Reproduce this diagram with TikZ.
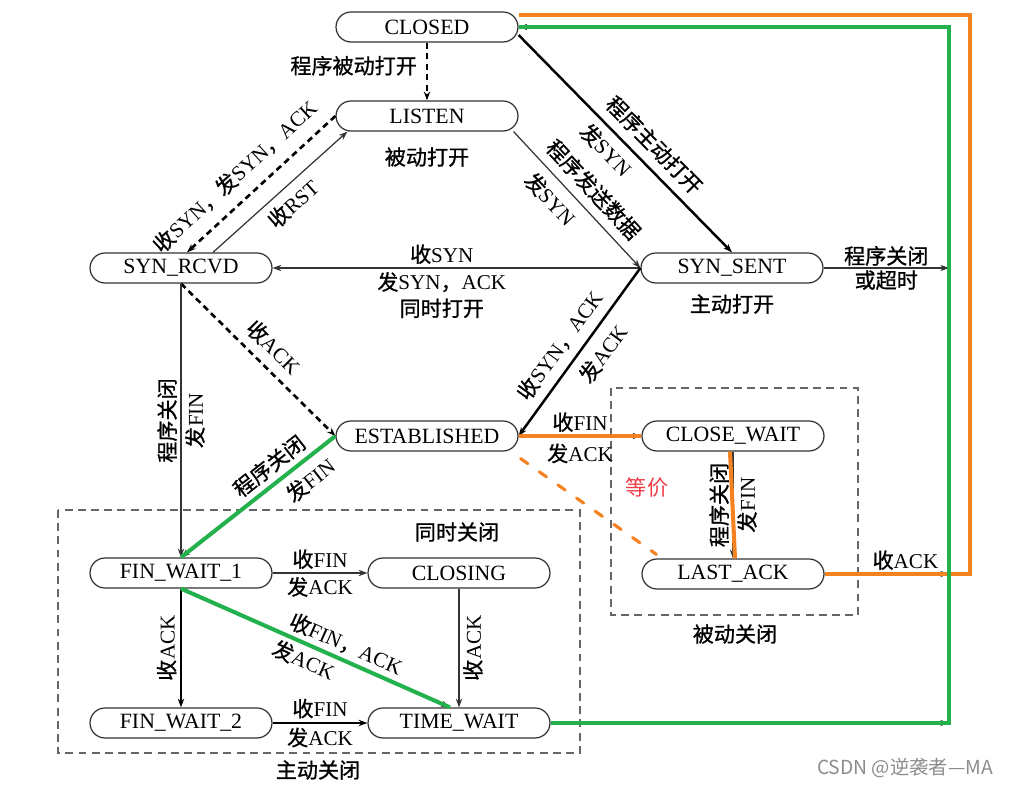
\documentclass[tikz,border=0pt]{standalone}
\usepackage{fontspec}
\setmainfont{Liberation Serif}
\newfontfamily\zhfont[FakeBold=1]{Noto Sans CJK SC}
\newfontfamily\zhsans{Noto Sans CJK SC}
\newcommand{\cn}[1]{{\zhfont #1}}
\usetikzlibrary{arrows.meta}

\definecolor{markorange}{RGB}{245,130,32}
\definecolor{markgreen}{RGB}{34,177,76}
\definecolor{markred}{RGB}{240,60,70}

\tikzset{
    state/.style={draw=black!80, line width=0.7pt, rounded corners=0.3cm,
        minimum width=3.64cm, minimum height=0.6cm, inner sep=0pt,
        font=\fontsize{12.4}{14}\selectfont},
    lab/.style={font=\fontsize{12}{14}\selectfont, inner sep=2pt, align=center},
    thinarr/.style={->, draw=black!80, line width=0.7pt},
    boldarr/.style={->, draw=black, line width=1.4pt},
    dasharr/.style={->, draw=black, line width=1.5pt, dash pattern=on 3.5pt off 2.5pt},
    groupbox/.style={draw=black!60, line width=0.8pt, dash pattern=on 4.5pt off 3pt},
    orangemark/.style={draw=markorange, line width=2.3pt},
    greenmark/.style={draw=markgreen, line width=2.3pt}
}

\begin{document}
\begin{tikzpicture}[
        x=0.02cm, y=-0.02cm,
        >={Stealth[length=5pt, width=3.6pt]}
    ]

        \useasboundingbox (0,0) rectangle (1009,787);

        % states
        \node[state] (closed) at (427,27) {CLOSED};
        \node[state] (listen) at (427,116) {LISTEN};
        \node[state] (synrcvd) at (181,268) {SYN\_RCVD};
        \node[state] (synsent) at (732,268) {SYN\_SENT};
        \node[state] (established) at (427,436) {ESTABLISHED};
        \node[state] (closewait) at (733,436) {CLOSE\_WAIT};
        \node[state] (lastack) at (733,574) {LAST\_ACK};
        \node[state] (finwait1) at (181,573) {FIN\_WAIT\_1};
        \node[state] (closing) at (459,573) {CLOSING};
        \node[state] (finwait2) at (181,723) {FIN\_WAIT\_2};
        \node[state] (timewait) at (459,723) {TIME\_WAIT};

        \coordinate (busTop) at (949,27);
        \coordinate (orangeTop) at (970,15);

        % groups
        \draw[groupbox] (58,510) rectangle (580,753);
        \draw[groupbox] (611,388) rectangle (858,615);

        \node[lab] (listenNote) at (427,157) {\cn{被动打开}};
        \node[lab] (sentNote) at (732,304) {\cn{主动打开}};
        \node[lab] (simulClose) at (457,532) {\cn{同时关闭}};
        \node[lab] (activeClose) at (318,770) {\cn{主动关闭}};
        \node[lab] (passiveClose) at (735,634) {\cn{被动关闭}};

        % opening
        \draw[dasharr] (closed) -- (listen)
            node[lab, pos=0.4, left=3pt] {\cn{程序被动打开}};

        \draw[boldarr] (closed.-5) -- (synsent.north)
            node[lab, pos=0.57, sloped, above=3pt] {\cn{程序主动打开}}
            node[lab, pos=0.47, sloped, below=2pt] {\cn{发}SYN};

        \draw[thinarr] ([xshift=-0.1cm]listen.south east) -- (synsent.west)
            node[lab, pos=0.52, sloped, above=3pt] {\cn{程序发送数据}}
            node[lab, pos=0.40, sloped, below=3pt] {\cn{发}SYN};

        \draw[dasharr] (listen.west) -- ([xshift=0.12cm]synrcvd.north)
            node[lab, pos=0.57, sloped, above=5pt] {\cn{收}SYN\cn{，发}SYN\cn{，}ACK};

        \draw[thinarr] ([xshift=0.64cm]synrcvd.north) -- ([xshift=0.24cm]listen.south west)
            node[lab, pos=0.51, sloped, below=2pt] {\cn{收}RST};

        \draw[thinarr] (synsent.west) -- (synrcvd.east)
            node[lab, pos=0.54, above=0pt] {\cn{收}SYN}
            node[lab, pos=0.54, below=0pt] {\cn{发}SYN\cn{，}ACK\\[1pt]\cn{同时打开}};

        \draw[dasharr] (synrcvd.south) -- (established.west)
            node[lab, pos=0.51, sloped, above=3pt] {\cn{收}ACK};

        \draw[boldarr] (synsent.west) -- (established.east)
            node[lab, pos=0.53, sloped, above=3pt] {\cn{收}SYN\cn{，}ACK}
            node[lab, pos=0.44, sloped, below=3pt] {\cn{发}ACK};

        % closing
        \draw[thinarr] (synrcvd.south) -- (finwait1.north)
            node[lab, midway, rotate=90, above] {\cn{程序关闭}}
            node[lab, midway, rotate=90, below] {\cn{发}FIN};

        \draw[thinarr] (established.east) -- (closewait.west)
            node[lab, midway, above] {\cn{收}FIN}
            node[lab, midway, below=2pt] {\cn{发}ACK};

        \draw[thinarr] (established.west) -- (finwait1.north)
            node[lab, pos=0.36, sloped, above=2pt] {\cn{程序关闭}}
            node[lab, pos=0.24, sloped, below=3pt] {\cn{发}FIN};

        \draw[thinarr] (closewait.south) -- (lastack.north)
            node[lab, midway, rotate=90, above] {\cn{程序关闭}}
            node[lab, midway, rotate=90, below] {\cn{发}FIN};

        \draw[thinarr] (finwait1.east) -- (closing.west)
            node[lab, midway, above] {\cn{收}FIN}
            node[lab, midway, below] {\cn{发}ACK};

        \draw[boldarr] (finwait1.south) -- (finwait2.north)
            node[lab, midway, rotate=90, above] {\cn{收}ACK};

        \draw[thinarr] (finwait1.south) -- ([xshift=-0.18cm]timewait.north)
            node[lab, pos=0.59, sloped, above=1pt] {\cn{收}FIN\cn{，}ACK}
            node[lab, pos=0.48, sloped, below=1pt] {\cn{发}ACK};

        \draw[thinarr] (closing.south) -- (timewait.north)
            node[lab, midway, rotate=90, below] {\cn{收}ACK};

        \draw[boldarr] (finwait2.east) -- (timewait.west)
            node[lab, midway, above] {\cn{收}FIN}
            node[lab, midway, below] {\cn{发}ACK};

        % back to CLOSED
        \draw[thinarr] (synsent.east) -- (synsent.east -| busTop)
            node[lab, midway, above=-1pt] {\cn{程序关闭}}
            node[lab, midway, below=-1pt] {\cn{或超时}};
        \draw[thinarr] (lastack.east) -- (lastack.east -| busTop)
            node[lab, pos=0.65, above] {\cn{收}ACK};
        \draw[thinarr] (timewait.east) -- (timewait.east -| busTop);
        \draw[thinarr] (timewait.east -| busTop) -- (busTop) -- (closed.east);

        % marks
        \draw[orangemark] (established.east) -- (closewait.west);
        \draw[orangemark] ([xshift=-0.06cm]closewait.south) -- ([xshift=0.04cm]lastack.north);
        \draw[orangemark, line width=1.8pt, line cap=round, dash pattern=on 5pt off 8pt]
            ([shift={(0.04cm,-0.14cm)}]established.south east) -- ([shift={(0.3cm,0.08cm)}]lastack.north west);
        \draw[orangemark] (lastack.east) -- (lastack.east -| orangeTop) -- (orangeTop) -- (orangeTop -| closed.north east);
        \node[font=\zhsans\fontsize{12}{14}\selectfont, text=markred] (equivNote) at (647,488) {等价};

        \draw[greenmark] (established.west) -- (finwait1.north);
        \draw[greenmark] (finwait1.south) -- ([xshift=-0.18cm]timewait.north);
        \draw[greenmark] (timewait.east) -| (busTop) -- (closed.east);

        \node[font=\zhsans\fontsize{11}{13}\selectfont, text=black!45] (credit) at (905,768) {CSDN @逆袭者—MA};

    \end{tikzpicture}
\end{document}
